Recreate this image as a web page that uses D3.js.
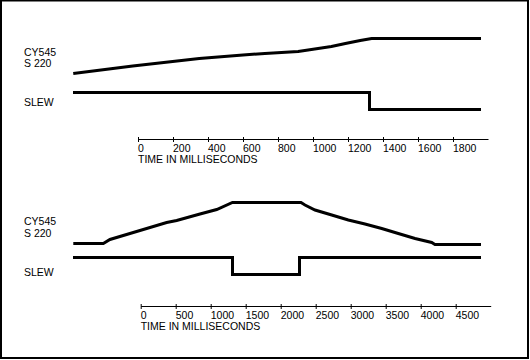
<!DOCTYPE html>
<html>
<head>
<meta charset="utf-8">
<script src="https://cdn.jsdelivr.net/npm/d3@7"></script>
<style>
  body { margin: 0; background: #fff; }
  svg { display: block; }
  text { font-family: "Liberation Sans", Arial, sans-serif; font-size: 10.5px; fill: #000; }
</style>
</head>
<body>
<svg id="chart"></svg>
<script>
const WIDTH = 530, HEIGHT = 360;

// upper trace: 0-1800 ms
const topTicks = [0, 200, 400, 600, 800, 1000, 1200, 1400, 1600, 1800];
const topTime = [-370, -30, 350, 600, 725, 915, 1105, 1185, 1270, 1335, 1960];
const topPos = [13, 28, 43, 50, 53, 57, 67, 73, 79, 83, 83];
const topSlewTime = [-370, 1325, 1960];
const topSlew = [1, 0, 0];

// lower trace: 0-4500 ms
const botTicks = [0, 500, 1000, 1500, 2000, 2500, 3000, 3500, 4000, 4500];
const botTime = [-963, -534, -439, -106, 371, 514, 847, 1086, 1311, 2290, 2347, 2490, 2729, 2966, 3204, 3443, 3680, 3919, 4157, 4204, 4861];
const botPos = [13, 13, 21, 35, 55, 59, 72, 81, 95, 95, 90, 80, 70, 60, 52, 43, 33, 23, 15, 11, 11];
const botSlewTime = [-963, 1305, 2270, 4861];
const botSlew = [1, 0, 1, 1];

const labels = ["CY545", "S 220", "SLEW"];

const svg = d3.select("svg#chart")
                .attr("width", WIDTH)
                .attr("height", HEIGHT);

svg.append("rect")
    .attr("x", 1)
    .attr("y", 0.5)
    .attr("width", 527)
    .attr("height", 357.5)
    .attr("fill", "none")
    .attr("stroke", "#000")
    .attr("stroke-width", 2);

const panels = [
    { ticks: topTicks, maxT: 2000, x0: 138, x1: 488, time: topTime, pos: topPos,
      slewTime: topSlewTime, slew: topSlew, posRange: [80, 30], slewRange: [109.5, 92.7],
      axisY: 139, labelY: [55.7, 67, 105.7] },
    { ticks: botTicks, maxT: 5000, x0: 140.7, x1: 490.7, time: botTime, pos: botPos,
      slewTime: botSlewTime, slew: botSlew, posRange: [250, 200], slewRange: [274.7, 257.5],
      axisY: 306, labelY: [225, 236.7, 275.7] }
];

panels.forEach((p) => {
    const xScale = d3.scaleLinear()
                    .domain([0, p.maxT])
                    .range([p.x0, p.x1]);

    const yPos = d3.scaleLinear()
                    .domain([0, 100])
                    .range(p.posRange);

    const ySlew = d3.scaleLinear()
                    .domain([0, 1])
                    .range(p.slewRange);

    const posLine = d3.line()
                    .x((d) => xScale(d[0]))
                    .y((d) => yPos(d[1]));

    const slewLine = d3.line()
                    .curve(d3.curveStepAfter)
                    .x((d) => xScale(d[0]))
                    .y((d) => ySlew(d[1]));

    svg.append("path")
        .datum(d3.zip(p.time, p.pos))
        .attr("d", posLine)
        .attr("fill", "none")
        .attr("stroke", "#000")
        .attr("stroke-width", 3);

    svg.append("path")
        .datum(d3.zip(p.slewTime, p.slew))
        .attr("d", slewLine)
        .attr("fill", "none")
        .attr("stroke", "#000")
        .attr("stroke-width", 3)
        .attr("shape-rendering", "crispEdges");

    const axis = svg.append("g")
                    .attr("transform", `translate(0, ${p.axisY})`)
                    .call(d3.axisBottom(xScale)
                            .tickValues(p.ticks)
                            .tickFormat(d3.format("d"))
                            .tickSizeInner(3)
                            .tickSizeOuter(0));

    axis.select(".domain").attr("stroke", "#000");
    axis.selectAll(".tick line")
        .attr("y1", -2)
        .attr("stroke", "#000");
    axis.selectAll(".tick text")
        .attr("y", 13)
        .attr("dy", 0)
        .attr("x", -0.5)
        .attr("text-anchor", "start")
        .attr("font-family", null)
        .attr("font-size", null);

    svg.append("text")
        .attr("x", xScale(0))
        .attr("y", p.axisY + 24)
        .text("TIME IN MILLISECONDS");

    labels.forEach((t, i) => {
        svg.append("text")
            .attr("x", 24)
            .attr("y", p.labelY[i])
            .text(t);
    });
});
</script>
</body>
</html>
